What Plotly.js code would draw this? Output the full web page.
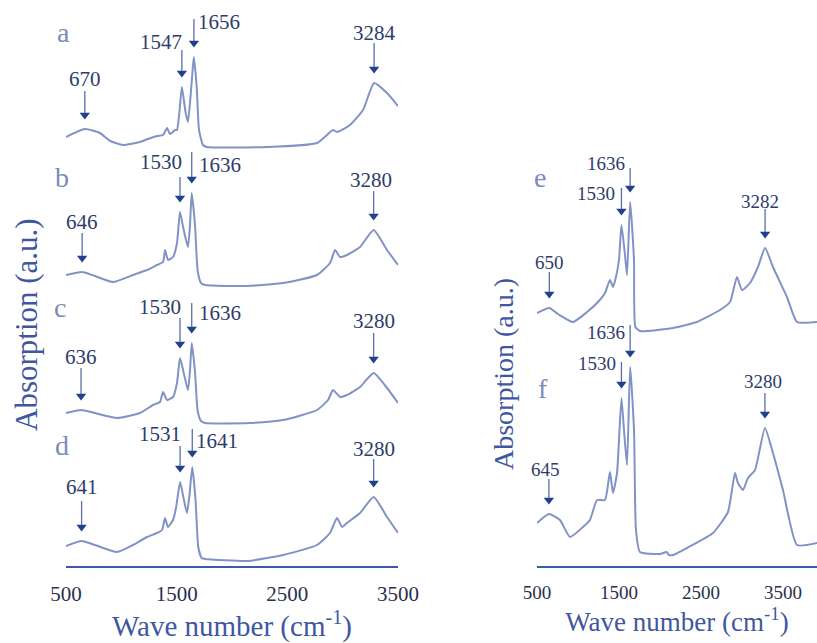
<!DOCTYPE html>
<html>
<head>
<meta charset="utf-8">
<script src="https://cdn.plot.ly/plotly-3.0.1.min.js"></script>
<style>html,body{margin:0;padding:0;background:#fff;}#chart{width:817px;height:643px;}</style>
</head>
<body>
<div id="chart"></div>
<script>
// ---- Data (wave number, relative absorption) ----
const wnA  = [500, 670, 807, 900, 1015, 1169, 1240, 1322, 1377, 1413, 1440, 1485, 1503, 1525, 1547, 1580, 1602, 1625, 1645, 1656, 1681, 1702, 1738, 1774, 2316, 2768, 2913, 2949, 3066, 3184, 3284, 3401, 3500];
const absA = [10, 18, 14, 6, 2, 5, 8, 11, 12, 19, 13, 17, 17, 35, 60, 35, 25, 50, 78, 90, 60, 17, 2, 0, 0, 4, 17, 15, 22, 37, 64, 54, 41];
const peaksA = [670, 1547, 1656, 3284];

const wnB  = [500, 646, 762, 925, 1105, 1232, 1322, 1377, 1395, 1422, 1467, 1503, 1530, 1560, 1602, 1620, 1636, 1665, 1690, 1720, 1756, 2136, 2461, 2768, 2886, 2931, 2976, 3039, 3157, 3280, 3401, 3500];
const absB = [11, 14, 10, 4, 11, 16, 21, 24, 36, 26, 29, 43, 74, 58, 39, 60, 93, 62, 15, 3, 1, 0, 3, 11, 23, 36, 29, 31, 39, 56, 36, 21];
const peaksB = [646, 1530, 1636, 3280];

const wnC  = [500, 636, 762, 961, 1169, 1286, 1349, 1377, 1413, 1467, 1503, 1530, 1560, 1602, 1620, 1636, 1665, 1690, 1720, 1756, 2163, 2461, 2768, 2868, 2913, 2976, 3039, 3157, 3280, 3401, 3500];
const absC = [10, 13, 10, 5, 10, 18, 21, 31, 23, 26, 40, 65, 52, 33, 52, 80, 52, 12, 2, 0, 0, 3, 13, 23, 33, 26, 28, 36, 50, 35, 20];
const peaksC = [636, 1530, 1636, 3280];

const wnD  = [500, 641, 762, 961, 1105, 1232, 1322, 1368, 1395, 1422, 1467, 1494, 1531, 1560, 1593, 1615, 1641, 1670, 1695, 1725, 1756, 2145, 2461, 2768, 2886, 2949, 2994, 3039, 3157, 3280, 3401, 3500];
const absD = [15, 20, 16, 9, 16, 24, 28, 31, 43, 34, 41, 53, 79, 64, 48, 65, 94, 62, 14, 3, 2, 0, 6, 16, 28, 43, 34, 38, 48, 64, 44, 28];
const peaksD = [641, 1531, 1641, 3280];

const wnE  = [500, 650, 756, 939, 1110, 1232, 1329, 1390, 1427, 1463, 1500, 1530, 1573, 1598, 1636, 1683, 1700, 1756, 2159, 2451, 2732, 2854, 2939, 3000, 3098, 3195, 3282, 3378, 3549, 3671, 3915];
const absE = [18, 23, 17, 9, 19, 28, 38, 51, 44, 54, 71, 106, 76, 56, 129, 71, 4, 0, 3, 9, 21, 29, 54, 41, 48, 64, 83, 64, 34, 9, 9];
const peaksE = [650, 1530, 1636, 3282];

const wnF  = [500, 645, 780, 902, 1061, 1146, 1232, 1329, 1390, 1427, 1476, 1530, 1561, 1598, 1636, 1683, 1707, 1756, 2000, 2080, 2110, 2159, 2329, 2646, 2829, 2915, 2951, 3012, 3073, 3159, 3280, 3378, 3500, 3671, 3915];
const absF = [32, 41, 35, 18, 28, 35, 55, 55, 83, 62, 82, 157, 125, 90, 188, 125, 25, 3, 1, 3, 0, 0, 7, 22, 43, 82, 72, 65, 77, 85, 127, 102, 65, 10, 12];
const peaksF = [645, 1530, 1636, 3280];

const sampleNames = ['a', 'b', 'c', 'd', 'e', 'f'];
const tickValues = [500, 1500, 2500, 3500];
const xTitle = 'Wave number (cm<sup>-1</sup>)';
const yTitle = 'Absorption (a.u.)';

// ---- Presentation settings ----
const FONT = 'Liberation Serif, Times New Roman, serif';
const C_LINE = '#8193c6', C_ARROWLINE = '#5a6ea6', C_HEAD = '#22408c', C_LABEL = '#2e3c6b',
      C_LETTER = '#7a8bbb', C_TICK = '#2a2f4f', C_TITLE = '#3f57a0', C_AXIS = '#3b5ba9';
const W = 817, H = 643;

const spectra = [
  {wn: wnA, ab: absA, peaks: peaksA, offset: 419, side: 1, letter: [63, 33],
   lab: [[0, 40], [-21, 35], [25, 25], [0, 40]], alen: [28, 27, 28, 30]},
  {wn: wnB, ab: absB, peaks: peaksB, offset: 280, side: 1, letter: [62, 178],
   lab: [[0, 40], [-19, 40], [28, 18], [-3, 40]], alen: [29, 25, 31, 29]},
  {wn: wnC, ab: absC, peaks: peaksC, offset: 143, side: 1, letter: [60, 307],
   lab: [[0, 43], [-20, 41], [28, 20], [0, 42]], alen: [32, 30, 30, 30]},
  {wn: wnD, ab: absD, peaks: peaksD, offset: 5, side: 1, letter: [62, 445],
   lab: [[0, 44], [-20, 38], [25, 16], [0, 38]], alen: [30, 26, 28, 28]},
  {wn: wnE, ab: absE, peaks: peaksE, offset: 235, side: 2, letter: [540, 177],
   lab: [[0, 36], [-25, 22], [-24, 29], [-5, 37]], alen: [26, 27, 24, 29]},
  {wn: wnF, ab: absF, peaks: peaksF, offset: 11, side: 2, letter: [543, 388],
   lab: [[-3, 35], [-24, 25], [-24, 25], [-2, 37]], alen: [25, 26, 32, 25]}
];

function valueAt(wn, ab, x) {
  for (let i = 0; i < wn.length - 1; i++) {
    if (x >= wn[i] && x <= wn[i + 1]) {
      const t = (x - wn[i]) / (wn[i + 1] - wn[i]);
      return ab[i] + t * (ab[i + 1] - ab[i]);
    }
  }
  return ab[ab.length - 1];
}

const traces = [];
const annotations = [];
const shapes = [];
const heads = {1: {x: [], y: []}, 2: {x: [], y: []}};
spectra.forEach((s, k) => {
  const xa = s.side === 1 ? 'x' : 'x2', ya = s.side === 1 ? 'y' : 'y2';
  traces.push({
    type: 'scatter', mode: 'lines', name: sampleNames[k],
    x: s.wn, y: s.ab.map(v => v + s.offset), xaxis: xa, yaxis: ya,
    line: {color: C_LINE, width: 2, shape: 'spline', smoothing: 0.5}, hoverinfo: 'x+y'
  });
  const fs = s.side === 1 ? 21 : 19;
  s.peaks.forEach((p, j) => {
    const tip = valueAt(s.wn, s.ab, p) + s.offset + 10;   // y axis: 1 unit = 1 px
    shapes.push({
      type: 'line', xref: xa, yref: ya, x0: p, x1: p, y0: tip + 6, y1: tip + s.alen[j],
      line: {color: C_ARROWLINE, width: 1.3}
    });
    heads[s.side].x.push(p);
    heads[s.side].y.push(tip + 4);
    annotations.push({
      xref: xa, yref: ya, x: p, y: tip, text: String(p), showarrow: false,
      xshift: s.lab[j][0], yshift: s.lab[j][1], xanchor: 'center', yanchor: 'middle',
      font: {family: FONT, size: fs, color: C_LABEL}
    });
  });
  annotations.push({
    xref: 'paper', yref: 'paper', x: s.letter[0] / W, y: 1 - s.letter[1] / H,
    text: sampleNames[k], showarrow: false, xanchor: 'center', yanchor: 'middle',
    font: {family: FONT, size: 28, color: C_LETTER}
  });
});
[1, 2].forEach(side => {
  traces.push({
    type: 'scatter', mode: 'markers', x: heads[side].x, y: heads[side].y,
    xaxis: side === 1 ? 'x' : 'x2', yaxis: side === 1 ? 'y' : 'y2', hoverinfo: 'skip',
    marker: {symbol: 'triangle-down', size: 9, color: C_HEAD, line: {width: 0}}
  });
});

annotations.push({
  xref: 'paper', yref: 'paper', x: 26 / W, y: 1 - 325 / H, text: yTitle, textangle: -90,
  showarrow: false, xanchor: 'center', yanchor: 'middle',
  font: {family: FONT, size: 31, color: C_TITLE}
});
annotations.push({
  xref: 'paper', yref: 'paper', x: 503 / W, y: 1 - 374 / H, text: yTitle, textangle: -90,
  showarrow: false, xanchor: 'center', yanchor: 'middle',
  font: {family: FONT, size: 28, color: C_TITLE}
});

const baseX = {
  showline: true, linecolor: C_AXIS, linewidth: 2, ticks: '', showgrid: false, zeroline: false,
  tickmode: 'array', tickvals: tickValues, ticktext: tickValues.map(String), fixedrange: true
};
const layout = {
  width: W, height: H, margin: {l: 0, r: 0, t: 0, b: 0},
  paper_bgcolor: '#ffffff', plot_bgcolor: '#ffffff', showlegend: false,
  font: {family: FONT},
  xaxis: Object.assign({}, baseX, {
    domain: [66 / W, 398 / W], range: [500, 3500], anchor: 'y',
    tickfont: {family: FONT, size: 21, color: C_TICK}, ticklabelstandoff: 8,
    title: {text: xTitle, font: {family: FONT, size: 29, color: C_TITLE}, standoff: 8}
  }),
  yaxis: {domain: [77 / H, 1], range: [0, 566], visible: false, fixedrange: true, anchor: 'x'},
  xaxis2: Object.assign({}, baseX, {
    domain: [537 / W, 1], range: [500, 3915], anchor: 'y2',
    tickfont: {family: FONT, size: 19, color: C_TICK}, ticklabelstandoff: 8,
    title: {text: xTitle, font: {family: FONT, size: 27, color: C_TITLE}, standoff: 8}
  }),
  yaxis2: {domain: [77 / H, 1], range: [0, 566], visible: false, fixedrange: true, anchor: 'x2'},
  shapes: shapes,
  annotations: annotations
};

Plotly.newPlot('chart', traces, layout, {displayModeBar: false, staticPlot: true});
</script>
</body>
</html>
